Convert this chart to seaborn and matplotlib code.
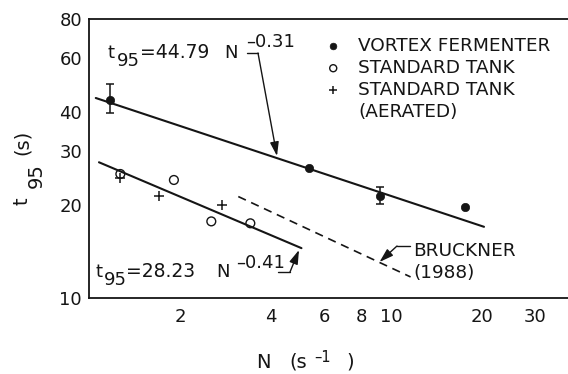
import matplotlib
matplotlib.use('Agg')
import matplotlib.pyplot as plt
import seaborn as sns
from matplotlib.ticker import FixedLocator, FixedFormatter, NullFormatter, NullLocator
from matplotlib.lines import Line2D

# ---------------- data ----------------
vortex_N = [1.17, 5.34, 9.17, 17.5]
vortex_t = [43.7, 26.3, 21.4, 19.7]
vortex_err_N = [1.17, 9.17]
vortex_err_t = [43.7, 21.4]
vortex_err_low = [39.6, 20.1]
vortex_err_high = [49.2, 22.8]

tank_N = [1.27, 1.91, 2.54, 3.42]
tank_t = [25.2, 24.1, 17.7, 17.45]

aerated_N = [1.27, 1.70, 2.76]
aerated_t = [24.5, 21.4, 20.0]

vortex_fit_N = [1.053, 20.3]
vortex_fit_t = [44.4, 17.0]
tank_fit_N = [1.079, 5.05]
tank_fit_t = [27.5, 14.5]
bruckner_N = [3.12, 11.6]
bruckner_t = [21.3, 11.7]

x_ticks = [2, 4, 6, 8, 10, 20, 30]
x_tick_labels = ['2', '4', '6', '8', '10', '20', '30']
y_ticks = [10, 20, 30, 40, 60, 80]
y_tick_labels = ['10', '20', '30', '40', '60', '80']
y_minor_ticks = [50, 70]

labels = ['VORTEX FERMENTER', 'STANDARD TANK', 'STANDARD TANK', '(AERATED)']

# ---------------- style ----------------
W, H = 568, 374
INK = '#151515'
sns.set_theme(style='white')
plt.rcParams['font.family'] = ['DejaVu Sans']
plt.rcParams['mathtext.default'] = 'regular'

fig = plt.figure(figsize=(W / 100, H / 100), dpi=100)
ax = fig.add_axes([89 / W, 76 / H, 484 / W, 279 / H])
ax.set_xscale('log')
ax.set_yscale('log')

# fit lines
sns.lineplot(x=vortex_fit_N, y=vortex_fit_t, ax=ax, color=INK, linewidth=1.5, legend=False)
sns.lineplot(x=tank_fit_N, y=tank_fit_t, ax=ax, color=INK, linewidth=1.5, legend=False)
sns.lineplot(x=bruckner_N, y=bruckner_t, ax=ax, color=INK, linewidth=1.2,
             linestyle=(0, (5, 3.5)), legend=False)

# error bars
lo = [t - l for t, l in zip(vortex_err_t, vortex_err_low)]
hi = [h - t for t, h in zip(vortex_err_t, vortex_err_high)]
ax.errorbar(vortex_err_N, vortex_err_t, yerr=[lo, hi], fmt='none', ecolor=INK,
            elinewidth=1.1, capsize=3, capthick=1.1, zorder=3)

# points
sns.scatterplot(x=vortex_N, y=vortex_t, ax=ax, marker='o', s=36, color=INK,
                edgecolor=INK, linewidth=0.5, label=labels[0], zorder=4)
sns.scatterplot(x=tank_N, y=tank_t, ax=ax, marker='o', s=40, facecolor='none',
                edgecolor=INK, linewidth=1.0, label=labels[1], zorder=4)
sns.scatterplot(x=aerated_N, y=aerated_t, ax=ax, marker='+', s=50, color=INK,
                linewidth=1.1, label=labels[2], zorder=4)

ax.set_xlim(1, 40)
ax.set_ylim(10, 80)

# ticks
ax.xaxis.set_major_locator(FixedLocator(x_ticks))
ax.xaxis.set_major_formatter(FixedFormatter(x_tick_labels))
ax.xaxis.set_minor_locator(NullLocator())
ax.yaxis.set_major_locator(FixedLocator(y_ticks))
ax.yaxis.set_major_formatter(FixedFormatter(y_tick_labels))
ax.yaxis.set_minor_locator(FixedLocator(y_minor_ticks))
ax.yaxis.set_minor_formatter(NullFormatter())
ax.tick_params(axis='both', which='both', direction='in', length=8, width=1.1,
               color=INK, labelcolor=INK, labelsize=13, top=False, right=False)
ax.tick_params(axis='x', which='both', pad=7.5)
ax.tick_params(axis='y', which='both', pad=5)
for sp in ax.spines.values():
    sp.set_color(INK)
    sp.set_linewidth(1.3)
ax.set_xlabel('')
ax.set_ylabel('')

# legend (second line of the aerated label as a handle-less row)
handles, labs = ax.get_legend_handles_labels()
handles.append(Line2D([], [], linestyle='none', marker=''))
labs.append(labels[3])
leg = ax.legend(handles, labs, loc='upper left', bbox_to_anchor=(0.4855, 0.9355),
                frameon=False, fontsize=13.3, handlelength=1.0, handletextpad=0.86,
                labelspacing=0.22, borderpad=0, borderaxespad=0, markerscale=0.8)
for t in leg.get_texts():
    t.set_color(INK)


# ---------------- text pieces (pixel positions, y from top) ----------------
def ptext(x, y, s, size=13, **kw):
    fig.text(x / W, 1 - y / H, s, fontsize=size, color=INK, ha='left', va='baseline', **kw)


# equation for vortex fit
ptext(108, 58, 't')
ptext(117, 66, '95')
ptext(140, 58, '=44.79', size=13.5)
ptext(224, 58, 'N')
ptext(246, 47, '\u20130.31')
# equation for standard tank fit
ptext(95, 277, 't')
ptext(104, 285, '95')
ptext(126, 277, '=28.23', size=13.5)
ptext(216, 277, 'N')
ptext(236, 268, '\u20130.41')
# Bruckner
ptext(413, 256, 'BRUCKNER', size=13.3)
ptext(413, 278, '(1988)', size=13.3)

# axis labels
ptext(256, 368, 'N', size=14)
ptext(289, 368, '(s', size=14)
ptext(314, 362, '\u20131', size=10.5)
ptext(346, 368, ')', size=14)

for x, y, s in [(27, 205, 't'), (42, 188, '95'), (28, 155, '(s)')]:
    fig.text(x / W, 1 - y / H, s, fontsize=14, color=INK, rotation=90,
             rotation_mode='anchor', ha='left', va='baseline')


# connectors with arrows
def connector(pts):
    p = [(x, H - y) for x, y in pts]
    xs = [q[0] for q in p[:-1]]
    ys = [q[1] for q in p[:-1]]
    fig.add_artist(Line2D(xs, ys, transform=None, color=INK, lw=1.0))
    ax.annotate('', xy=p[-1], xytext=p[-2], xycoords='figure pixels',
                textcoords='figure pixels', annotation_clip=False,
                arrowprops=dict(arrowstyle='-|>,head_length=0.7,head_width=0.22',
                                color=INK, lw=1.0, shrinkA=0, shrinkB=0,
                                mutation_scale=12))


connector([(247, 53), (258, 53), (277, 156)])
connector([(278, 272), (290, 272), (299, 250)])
connector([(410, 246), (397, 246), (379.5, 262)])

fig.savefig('out.png', dpi=100)
